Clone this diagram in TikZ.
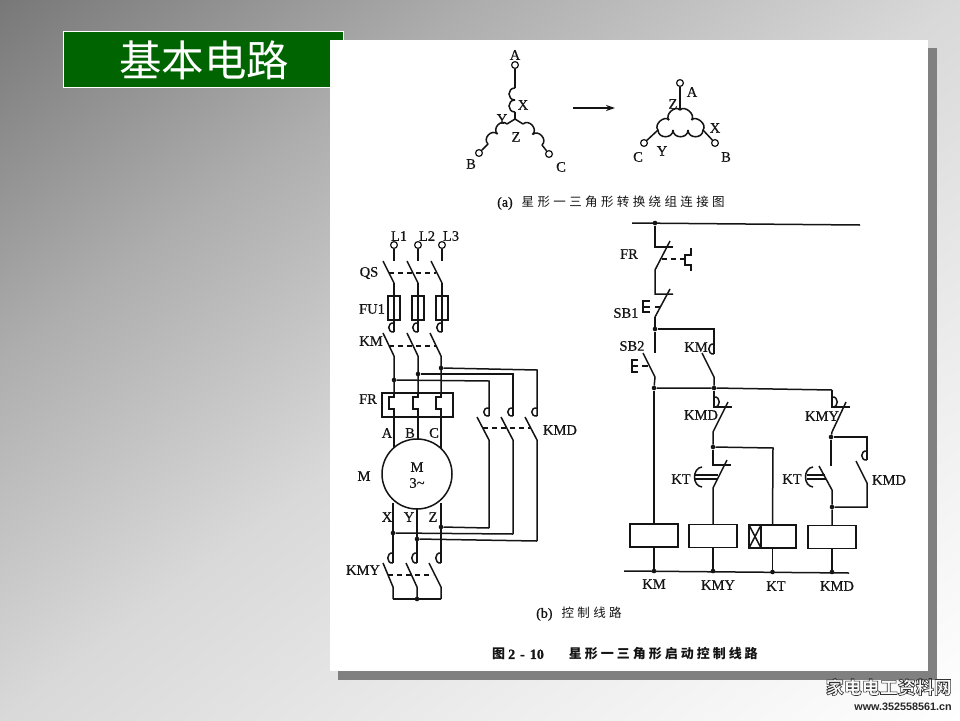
\documentclass[tikz,border=0pt]{standalone}
\usepackage{fontspec}
\usetikzlibrary{calc,arrows.meta}
\newfontfamily\lab{Liberation Serif}[RawFeature={embolden=0.5}]
\newfontfamily\labb{Liberation Serif}[RawFeature={embolden=1.0}]
\newfontfamily\cjk{Noto Sans CJK SC}
\newfontfamily\capf{Noto Sans CJK SC}[LetterSpace=27]
\newfontfamily\capg{Noto Sans CJK SC}[LetterSpace=23]
\newfontfamily\wwwf{Liberation Sans}
\definecolor{ink}{HTML}{141414}
\definecolor{grn}{HTML}{006400}
\definecolor{shadowg}{HTML}{808080}
\definecolor{gA}{gray}{0.47}\definecolor{gB}{gray}{0.68}\definecolor{gC}{gray}{0.85}\definecolor{gD}{gray}{0.93}
\pgfdeclarehorizontalshading{bgshade}{100bp}{color(0bp)=(gA);color(25bp)=(gA);color(37.5bp)=(gB);color(50bp)=(gC);color(62.5bp)=(gD);color(75bp)=(white);color(100bp)=(white)}
\tikzset{
 wire/.style={draw=ink,line width=1.5pt,line join=miter},
 dashw/.style={draw=ink,line width=1.4pt,dash pattern=on 5pt off 4pt},
 lbl/.style={font=\lab\fontsize{14.5}{15}\selectfont,text=ink,inner sep=0pt},
 jct/.style={circle,fill=ink,inner sep=0pt,minimum size=4.6pt},
 term/.style={circle,draw=ink,line width=1.2pt,fill=white,inner sep=0pt,minimum size=6.8pt},
 coilbox/.style={rectangle,draw=ink,line width=1.4pt,inner sep=0pt,minimum width=48pt,minimum height=23pt},
 capt/.style={font=\capf\fontsize{12.5}{14}\selectfont,text=ink,inner sep=0pt,anchor=west},
}
\newcommand\hk[4]{\draw[wire] (#1,#2) .. controls ({#1+#4*7},{#2-1}) and ({#1+#4*7},{#3+1}) .. (#1,#3);}
\newcommand\heater[1]{\draw[wire] (#1,393) -- (#1,397) -- ({#1-5},397) -- ({#1-5},409) -- (#1,409) -- (#1,417);}
% winding from #1 to #2, #3 bumps, bump height #4 (sign picks the side)
\newcommand\wnd[4]{\foreach \wi [evaluate=\wi as \wj using \wi+1] in {1,...,#3}{
  \coordinate (wp) at ($(#1)!{(\wi-1)/#3}!(#2)$);
  \coordinate (wq) at ($(#1)!{(\wj-1)/#3}!(#2)$);
  \draw[wire] (wp) .. controls ($(wp)!#4!90:(wq)$) and ($(wq)!#4!-90:(wp)$) .. (wq);}}
\begin{document}
\begin{tikzpicture}[x=1pt,y=-1pt]
\useasboundingbox (0,0) rectangle (960,720);
% background
\begin{scope}
\clip (0,0) rectangle (960,720);
\shade[transform canvas={rotate around={-53.13:(480,360)}},shading=bgshade,shading angle=0]
  (-96,-900) rectangle (1056,1600);
\end{scope}
% panel
\fill[shadowg] (338,48) rectangle (937,680);
\node[draw=white,line width=0.8pt,fill=grn,minimum width=280pt,minimum height=56pt,inner sep=0pt] (titlebox) at (203.5,59) {};
\node[font=\cjk\fontsize{42.5}{44}\selectfont,text=white,inner sep=0pt] (title) at (204,60) {基本电路};
\fill[white] (330,40) rectangle (928,671);
% ---------- star winding
\node[term] (sA) at (515,65) {};
\node[term] (sB) at (479,153) {};
\node[term] (sC) at (549,154) {};
\coordinate (sO) at (515,119);
\coordinate (sa1) at (515,88); \coordinate (sa2) at (515,112);
\coordinate (sb1) at (507,124); \coordinate (sb2) at (488,144);
\coordinate (sc1) at (523,124); \coordinate (sc2) at (542,145);
\draw[wire] (sA) -- (sa1); \wnd{sa1}{sa2}{2}{-8pt} \draw[wire] (sa2) -- (sO);
\draw[wire] (sO) -- (sb1); \wnd{sb1}{sb2}{2}{-8pt} \draw[wire] (sb2) -- (sB);
\draw[wire] (sO) -- (sc1); \wnd{sc1}{sc2}{2}{8pt} \draw[wire] (sc2) -- (sC);
\node[lbl] (tA) at (515,55) {A};
\node[lbl] (tX) at (523,105) {X};
\node[lbl] (tY) at (502,119) {Y};
\node[lbl] (tZ) at (516,137) {Z};
\node[lbl] (tB) at (471,164) {B};
\node[lbl] (tC) at (561,167) {C};
\coordinate (arrS) at (573,108); \coordinate (arrE) at (615,108);
\draw[wire,-{Stealth[length=9pt,width=6pt]}] (arrS) -- (arrE);
% delta winding
\node[term] (dA) at (680,83) {};
\node[term] (dC) at (644,143) {};
\node[term] (dB) at (715,143) {};
\coordinate (dT) at (680,110); \coordinate (dL) at (658,130); \coordinate (dR) at (703,130);
\draw[wire] (dA) -- (dT); \draw[wire] (dC) -- (dL); \draw[wire] (dB) -- (dR);
\wnd{dL}{dT}{2}{7pt} \wnd{dT}{dR}{2}{7pt} \wnd{dL}{dR}{3}{-9pt}
\node[lbl] (uA) at (692,92) {A};
\node[lbl] (uZ) at (673,104) {Z};
\node[lbl] (uX) at (715,128) {X};
\node[lbl] (uY) at (662,151) {Y};
\node[lbl] (uC) at (638,157) {C};
\node[lbl] (uB) at (726,157) {B};
\node[capt] (capa) at (497,203) {{\labb\fontsize{14}{15}\selectfont (a)}\hspace{9pt}星形一三角形转换绕组连接图};
% ---------- main circuit
\foreach \n/\x/\xx/\xl/\t in {1/394/383/399/L1,2/418/407/427/L2,3/442/431/451/L3}{
  \node[term] (Lt\n) at (\x,245) {};
  \node[lbl] (Ll\n) at (\xl,236) {\t};
  \coordinate (Lb\n) at (\x,261);
  \draw[wire] (Lt\n) -- (Lb\n);
  \coordinate (Qt\n) at (\xx,261); \coordinate (Qb\n) at (\x,283);
  \draw[wire] (Qt\n) -- (Qb\n);
  \node[rectangle,draw=ink,line width=1.2pt,inner sep=0pt,minimum width=12pt,minimum height=24pt] (Fu\n) at (\x,308) {};
  \coordinate (Fe\n) at (\x,332);
  \draw[wire] (Qb\n) -- (Fe\n);
  \hk{\x}{323}{332}{-1}
}
\coordinate (Qd1) at (389,273); \coordinate (Qd2) at (436,273);
\draw[dashw] (Qd1) -- (Qd2);
\foreach \n/\x/\xx in {1/394/383,2/418/407,3/441/430}{
  \coordinate (Kt\n) at (\xx,333); \coordinate (Kb\n) at (\x,356); \coordinate (Ke\n) at (\x,393);
  \draw[wire] (Kt\n) -- (Kb\n) -- (Ke\n);
  \heater{\x}
  \coordinate (Ma\n) at (\x,447);
}
\coordinate (Kd1) at (389,346); \coordinate (Kd2) at (436,346);
\draw[dashw] (Kd1) -- (Kd2);
\node[jct] (j1) at (394,380) {};
\node[jct] (j2) at (418,374) {};
\node[jct] (j3) at (441,368) {};
\node[rectangle,draw=ink,line width=1.2pt,inner sep=0pt,minimum width=71pt,minimum height=24pt] (FRb) at (417.5,405) {};
\draw[wire] (394,417) -- (394,448);
\draw[wire] (418,417) -- (418,440);
\draw[wire] (441,417) -- (441,448);
\node[circle,draw=ink,line width=1.5pt,inner sep=0pt,minimum size=70pt,fill=white] (Mo) at (417,474) {};
\node[lbl] (mM) at (417,467) {M};
\node[lbl] (m3) at (417,483) {3\textasciitilde};
\node[lbl] (mA) at (387,433) {A};
\node[lbl] (mB) at (410,433) {B};
\node[lbl] (mC) at (434,433) {C};
\node[lbl] (mX) at (387,517) {X};
\node[lbl] (mY) at (409,517) {Y};
\node[lbl] (mZ) at (433,517) {Z};
\node[lbl] (nM) at (364,476) {M};
\node[lbl] (nQ) at (369,273) {QS};
\node[lbl] (nF) at (372,309) {FU1};
\node[lbl] (nK) at (371,341) {KM};
\node[lbl] (nR) at (368,399) {FR};
\node[lbl] (nD) at (560,430) {KMD};
\node[lbl] (nY) at (363,570) {KMY};
% KMD contacts
\foreach \n/\x/\xx/\j/\yt/\yb in {1/489/477/j1/381/528,2/513/501/j2/374/534,3/537/525/j3/370/541}{
  \coordinate (Dt\n) at (\x,\yt);
  \coordinate (Dh\n) at (\x,416);
  \draw[wire] (\j) -- (Dt\n) -- (Dh\n);
  \hk{\x}{408}{416}{-1}
  \coordinate (Db\n) at (\xx,417); \coordinate (De\n) at (\x,440); \coordinate (Dz\n) at (\x,\yb);
  \draw[wire] (Db\n) -- (De\n) -- (Dz\n);
}
\coordinate (Dd1) at (483,428); \coordinate (Dd2) at (531,428);
\draw[dashw] (Dd1) -- (Dd2);
\node[jct] (b3) at (441,527) {};
\node[jct] (b1) at (393,533) {};
\node[jct] (b2) at (417,539) {};
\draw[wire] (b3) -- (Dz1);
\draw[wire] (b1) -- (Dz2);
\draw[wire] (b2) -- (Dz3);
\foreach \n/\x/\xx/\ys in {1/393/383/503,2/417/406/509,3/441/429/503}{
  \coordinate (Ya\n) at (\x,\ys); \coordinate (Yh\n) at (\x,563);
  \draw[wire] (Ya\n) -- (Yh\n);
  \hk{\x}{553}{563}{-1}
  \coordinate (Yt\n) at (\xx,563); \coordinate (Yb\n) at (\x,587); \coordinate (Ye\n) at (\x,599);
  \draw[wire] (Yt\n) -- (Yb\n) -- (Ye\n);
}
\draw[wire] (Ye1) -- (Ye3);
\node[jct] (ystar) at (417,599) {};
\coordinate (Yd1) at (388,575); \coordinate (Yd2) at (433,575);
\draw[dashw] (Yd1) -- (Yd2);
\node[capt] (capb) at (536,614) {{\labb\fontsize{14}{15}\selectfont (b)}\hspace{9pt}控制线路};
% ---------- control circuit
\coordinate (busL) at (632,223); \coordinate (busR) at (860,225);
\draw[wire] (busL) -- (busR);
\node[jct] (c0) at (655,223) {};
\coordinate (c1) at (655,247); \coordinate (c1r) at (673,247);
\coordinate (c2t) at (670,241); \coordinate (c2b) at (655,270);
\coordinate (c3) at (655,294); \coordinate (c3r) at (673,294);
\coordinate (c4t) at (670,289); \coordinate (c4b) at (655,317);
\draw[wire] (c0) -- (c1) -- (c1r);
\draw[wire] (c2t) -- (c2b) -- (c3) -- (c3r);
\draw[wire] (c4t) -- (c4b);
\coordinate (frd1) at (662,259); \coordinate (frd2) at (684,259);
\draw[dashw] (frd1) -- (frd2);
\draw[wire] (691,248) -- (691,255) -- (685,255) -- (685,265) -- (691,265) -- (691,271);
% SB1 button
\draw[wire] (650,301) -- (643,301) -- (643,312) -- (650,312);
\draw[wire] (643,307) -- (650,307);
\draw[wire] (655,307) -- (661,307);
\node[jct] (c5) at (655,329) {};
\draw[wire] (c4b) -- (c5);
\coordinate (sb2t) at (655,353); \coordinate (sb2a) at (643,353); \coordinate (sb2b) at (655,377);
\draw[wire] (c5) -- (sb2t);
\draw[wire] (sb2a) -- (sb2b);
\draw[wire] (638,360) -- (632,360) -- (632,372) -- (638,372);
\draw[wire] (632,366) -- (638,366);
\draw[wire] (642,366) -- (648,366);
\node[jct] (c6) at (654,388) {};
\draw[wire] (sb2b) -- (c6);
\coordinate (kmr) at (714,329); \coordinate (kmh) at (714,354);
\draw[wire] (c5) -- (kmr) -- (kmh);
\hk{714}{344}{354}{-1}
\coordinate (kmt) at (702,353); \coordinate (kmb) at (714,377);
\node[jct] (c7) at (714,388) {};
\draw[wire] (kmt) -- (kmb) -- (c7);
\coordinate (c8) at (832,390);
\draw[wire] (c6) -- (c7) -- (c8);
% KMD NC branch
\coordinate (k1) at (714,407); \coordinate (k1r) at (732,407);
\draw[wire] (c7) -- (k1) -- (k1r);
\hk{714}{397}{407}{1}
\coordinate (k2t) at (728,402); \coordinate (k2b) at (713,432);
\node[jct] (c9) at (713,447) {};
\draw[wire] (k2t) -- (k2b) -- (c9);
\coordinate (k3) at (713,465); \coordinate (k3r) at (731,465);
\draw[wire] (c9) -- (k3) -- (k3r);
\coordinate (k4t) at (727,460); \coordinate (k4b) at (713,488);
\node[coilbox] (Cm) at (654,535.5) {};
\node[coilbox] (Cy) at (713,536) {};
\node[coilbox,minimum width=47pt] (Ct) at (772.5,536.5) {};
\node[coilbox] (Cd) at (832,537) {};
\draw[wire] (k4t) -- (k4b) -- (Cy.north);
\draw[wire] (c6) -- (Cm.north);
\coordinate (k5) at (773,448);
\draw[wire] (c9) -- (k5) -- (Ct.north);
\draw[wire] (761,525) -- (761,548);
\draw[wire] (749,525) -- (761,548);
\draw[wire] (761,525) -- (749,548);
% KMY NC branch
\coordinate (y1) at (832,407); \coordinate (y1r) at (850,407);
\draw[wire] (c8) -- (y1) -- (y1r);
\hk{832}{397}{407}{1}
\coordinate (y2t) at (846,402); \coordinate (y2b) at (832,432);
\node[jct] (c10) at (831,437) {};
\draw[wire] (y2t) -- (y2b) -- (c10);
\coordinate (y3) at (831,466);
\draw[wire] (c10) -- (y3);
\coordinate (y4t) at (819,466); \coordinate (y4b) at (832,490);
\node[jct] (c11) at (832,507) {};
\draw[wire] (y4t) -- (y4b) -- (c11) -- (Cd.north);
\coordinate (y5) at (867,437); \coordinate (y5h) at (867,460);
\draw[wire] (c10) -- (y5) -- (y5h);
\hk{867}{451}{460}{-1}
\coordinate (y6t) at (856,461); \coordinate (y6b) at (867,483); \coordinate (y6e) at (867,507);
\draw[wire] (y6t) -- (y6b) -- (y6e) -- (c11);
% time delay symbols
\draw[wire] (702,467) .. controls (692,468) and (692,486) .. (702,487);
\draw[wire] (695,475) -- (718,475); \draw[wire] (695,479) -- (717,479);
\draw[wire] (813,467) .. controls (803,468) and (803,486) .. (813,487);
\draw[wire] (807,475) -- (825,475); \draw[wire] (807,479) -- (826,479);
% lower bus
\coordinate (lbL) at (624,571); \coordinate (lbR) at (849,573);
\draw[wire] (lbL) -- (lbR);
\node[jct] (g1) at (654,571) {};
\node[jct] (g2) at (713,571) {};
\node[jct] (g3) at (772.5,572) {};
\node[jct] (g4) at (832,572) {};
\draw[wire] (Cm) -- (g1); \draw[wire] (Cy) -- (g2); \draw[wire] (Ct) -- (g3); \draw[wire] (Cd) -- (g4);
\node[lbl] (oFR) at (629,254) {FR};
\node[lbl] (oS1) at (626,313) {SB1};
\node[lbl] (oS2) at (632,346) {SB2};
\node[lbl] (oKM) at (696,347) {KM};
\node[lbl] (oD) at (701,415) {KMD};
\node[lbl] (oY) at (822,416) {KMY};
\node[lbl] (oT1) at (681,479) {KT};
\node[lbl] (oT2) at (792,479) {KT};
\node[lbl] (oD2) at (889,480) {KMD};
\node[lbl] (pKM) at (654,584) {KM};
\node[lbl] (pKY) at (718,585) {KMY};
\node[lbl] (pKT) at (776,586) {KT};
\node[lbl] (pKD) at (837,586) {KMD};
\node[capt,font=\capg\bfseries\fontsize{13}{15}\selectfont] (capf) at (492,654) {图\hspace{3pt}{\labb\fontsize{14}{15}\selectfont 2\hspace{5pt}-\hspace{5pt}10}\hspace{25pt}星形一三角形启动控制线路};
% watermark
\node[inner sep=0pt,anchor=east,font=\cjk\bfseries\fontsize{18}{20}\selectfont] (wm) at (952,687) {\special{pdf:code 1 Tr 0.6 w 0.2 G}家电电工资料网\special{pdf:code 0 Tr 0 G}};
\node[inner sep=0pt,anchor=east,font=\wwwf\bfseries\fontsize{10.8}{12}\selectfont,text=black!85] (wmu) at (952,706.5) {www.352558561.cn};
\end{tikzpicture}
\end{document}
